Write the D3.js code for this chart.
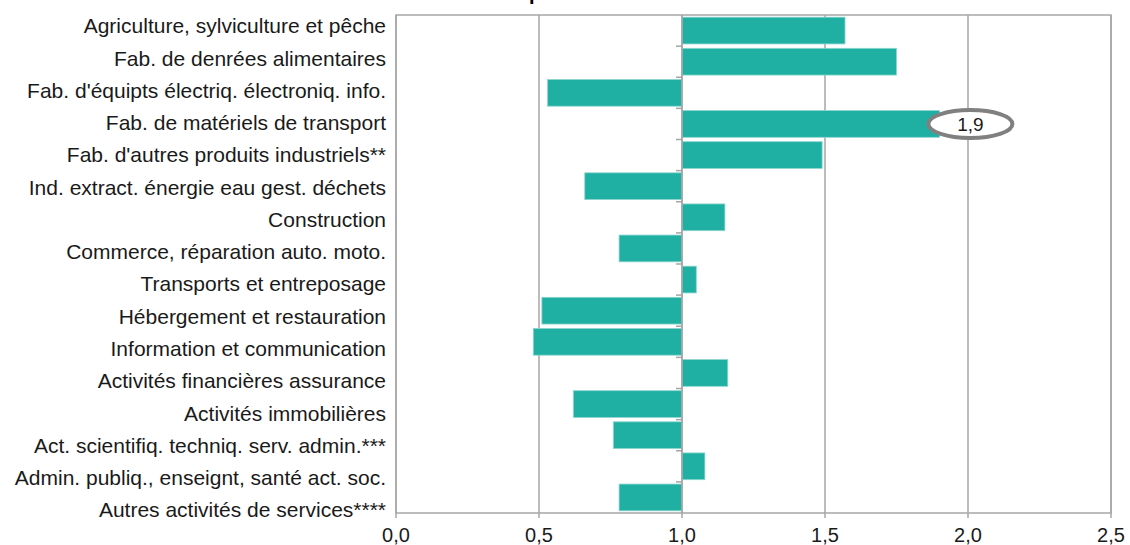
<!DOCTYPE html>
<html>
<head>
<meta charset="utf-8">
<script src="https://cdn.jsdelivr.net/npm/d3@7"></script>
<style>
  body { margin: 0; background: #fff; }
  text { font-family: "Liberation Sans", Arial, sans-serif; }
</style>
</head>
<body>
<div id="chart"></div>
<script>
// sectors, top to bottom
const sectors = [
  "Agriculture, sylviculture et pêche",
  "Fab. de denrées alimentaires",
  "Fab. d'équipts électriq. électroniq. info.",
  "Fab. de matériels de transport",
  "Fab. d'autres produits industriels**",
  "Ind. extract. énergie eau gest. déchets",
  "Construction",
  "Commerce, réparation auto. moto.",
  "Transports et entreposage",
  "Hébergement et restauration",
  "Information et communication",
  "Activités financières assurance",
  "Activités immobilières",
  "Act. scientifiq. techniq. serv. admin.***",
  "Admin. publiq., enseignt, santé act. soc.",
  "Autres activités de services****"
];
const values = [1.57, 1.75, 0.53, 1.9, 1.49, 0.66, 1.15, 0.78, 1.05, 0.51, 0.48, 1.16, 0.62, 0.76, 1.08, 0.78];
const xTicks = [0, 0.5, 1, 1.5, 2, 2.5];
const baseline = 1;
const highlighted = "Fab. de matériels de transport";

const W = 1130, H = 545;
const margin = { top: 15, right: 19, bottom: 32, left: 396 };

const svg = d3.select('#chart').append('svg')
  .attr('width', W)
  .attr('height', H);

const x = d3.scaleLinear()
  .domain([0, 2.5])
  .range([margin.left, W - margin.right]);

const y = d3.scaleBand()
  .domain(sectors)
  .range([margin.top, H - margin.bottom])
  .paddingInner(0.14)
  .paddingOuter(0.07);

// the labels in the source are spread a bit wider than the bars
const yLabel = d3.scalePoint()
  .domain(sectors)
  .range([26, 510]);

const fmt = d => d3.format('.1f')(d).replace('.', ',');

// title, cut off by the top edge as in the source image
svg.append('text')
  .attr('x', 529).attr('y', 0)
  .attr('font-size', 20).attr('font-weight', 'bold')
  .text('p');

// vertical gridlines
svg.append('g')
  .selectAll('line')
  .data(xTicks)
  .enter().append('line')
  .attr('x1', d => x(d)).attr('x2', d => x(d))
  .attr('y1', margin.top).attr('y2', H - margin.bottom + 5)
  .attr('stroke', '#a6a6a6')
  .attr('stroke-width', 1.5);

// plot frame
svg.append('rect')
  .attr('x', x(0)).attr('y', margin.top)
  .attr('width', x(2.5) - x(0))
  .attr('height', H - margin.bottom - margin.top)
  .attr('fill', 'none')
  .attr('stroke', '#a6a6a6')
  .attr('stroke-width', 1.5);

// bars from baseline 1
svg.append('g')
  .selectAll('rect')
  .data(sectors)
  .enter().append('rect')
  .attr('x', (d, i) => x(Math.min(values[i], baseline)))
  .attr('y', d => y(d))
  .attr('width', (d, i) => Math.abs(x(values[i]) - x(baseline)))
  .attr('height', y.bandwidth())
  .attr('fill', '#20b0a3')
  .attr('stroke', '#8fd6cf')
  .attr('stroke-width', 0.8);

// category ticks on the baseline axis
const rowH = (H - margin.bottom - margin.top) / sectors.length;
svg.append('g')
  .selectAll('line')
  .data(d3.range(1, sectors.length))
  .enter().append('line')
  .attr('x1', x(baseline) - 6).attr('x2', x(baseline))
  .attr('y1', i => margin.top + i * rowH)
  .attr('y2', i => margin.top + i * rowH)
  .attr('stroke', '#a6a6a6')
  .attr('stroke-width', 1.5);

svg.append('line')
  .attr('x1', x(baseline)).attr('x2', x(baseline))
  .attr('y1', margin.top).attr('y2', H - margin.bottom)
  .attr('stroke', '#a6a6a6')
  .attr('stroke-width', 1.5);

// category labels
svg.append('g')
  .selectAll('text')
  .data(sectors)
  .enter().append('text')
  .attr('x', x(0) - 10)
  .attr('y', d => yLabel(d))
  .attr('dy', '0.35em')
  .attr('text-anchor', 'end')
  .attr('font-size', 21)
  .attr('fill', '#1a1a1a')
  .text(d => d);

// x tick labels
svg.append('g')
  .selectAll('text')
  .data(xTicks)
  .enter().append('text')
  .attr('x', d => x(d))
  .attr('y', 542)
  .attr('text-anchor', 'middle')
  .attr('font-size', 20)
  .attr('fill', '#1a1a1a')
  .text(fmt);

// highlighted value callout
const hi = sectors.indexOf(highlighted);
const cx = x(values[hi]) + 31;
const cy = y(highlighted) + y.bandwidth() / 2;
svg.append('ellipse')
  .attr('cx', cx).attr('cy', cy)
  .attr('rx', 42).attr('ry', 14)
  .attr('fill', '#fff')
  .attr('stroke', '#808080')
  .attr('stroke-width', 4);
svg.append('text')
  .attr('x', cx).attr('y', cy)
  .attr('dy', '0.35em')
  .attr('text-anchor', 'middle')
  .attr('font-size', 19)
  .attr('fill', '#1a1a1a')
  .text(fmt(values[hi]));
</script>
</body>
</html>
